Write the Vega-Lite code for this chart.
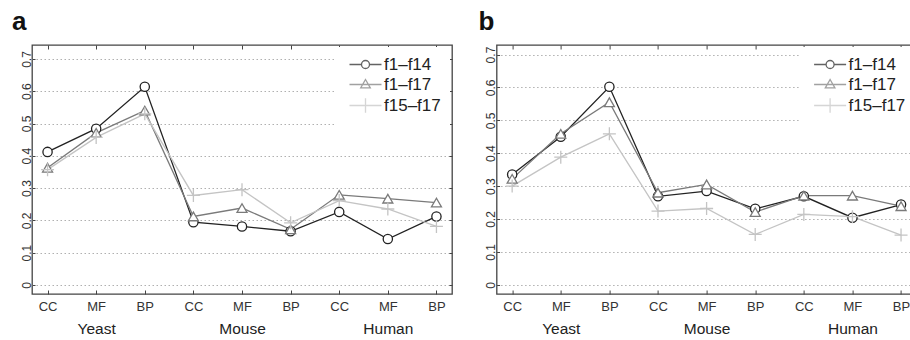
{
  "$schema": "https://vega.github.io/schema/vega-lite/v6.json",
  "padding": {"left": 11, "top": 7, "right": 0, "bottom": 0},
  "spacing": 44.6,
  "bounds": "flush",
  "resolve": {"scale": {"color": "independent", "shape": "independent"}, "legend": {"color": "independent", "shape": "independent"}},
  "config": {
    "font": "Liberation Sans",
    "view": {"stroke": "#444", "strokeWidth": 1.3},
    "axis": {"labelFont": "Liberation Sans", "labelColor": "#333", "tickColor": "#444", "tickWidth": 1, "title": null}
  },
  "datasets": {
    "a": [
      {"series": "f1–f14", "organism": "Yeast", "term": "CC", "pos": 1, "value": 0.412},
      {"series": "f1–f14", "organism": "Yeast", "term": "MF", "pos": 2, "value": 0.484},
      {"series": "f1–f14", "organism": "Yeast", "term": "BP", "pos": 3, "value": 0.614},
      {"series": "f1–f14", "organism": "Mouse", "term": "CC", "pos": 4, "value": 0.194},
      {"series": "f1–f14", "organism": "Mouse", "term": "MF", "pos": 5, "value": 0.181},
      {"series": "f1–f14", "organism": "Mouse", "term": "BP", "pos": 6, "value": 0.166},
      {"series": "f1–f14", "organism": "Human", "term": "CC", "pos": 7, "value": 0.226},
      {"series": "f1–f14", "organism": "Human", "term": "MF", "pos": 8, "value": 0.142},
      {"series": "f1–f14", "organism": "Human", "term": "BP", "pos": 9, "value": 0.212},
      {"series": "f1–f17", "organism": "Yeast", "term": "CC", "pos": 1, "value": 0.363},
      {"series": "f1–f17", "organism": "Yeast", "term": "MF", "pos": 2, "value": 0.471},
      {"series": "f1–f17", "organism": "Yeast", "term": "BP", "pos": 3, "value": 0.540},
      {"series": "f1–f17", "organism": "Mouse", "term": "CC", "pos": 4, "value": 0.212},
      {"series": "f1–f17", "organism": "Mouse", "term": "MF", "pos": 5, "value": 0.238},
      {"series": "f1–f17", "organism": "Mouse", "term": "BP", "pos": 6, "value": 0.172},
      {"series": "f1–f17", "organism": "Human", "term": "CC", "pos": 7, "value": 0.279},
      {"series": "f1–f17", "organism": "Human", "term": "MF", "pos": 8, "value": 0.267},
      {"series": "f1–f17", "organism": "Human", "term": "BP", "pos": 9, "value": 0.255},
      {"series": "f15–f17", "organism": "Yeast", "term": "CC", "pos": 1, "value": 0.357},
      {"series": "f15–f17", "organism": "Yeast", "term": "MF", "pos": 2, "value": 0.457},
      {"series": "f15–f17", "organism": "Yeast", "term": "BP", "pos": 3, "value": 0.530},
      {"series": "f15–f17", "organism": "Mouse", "term": "CC", "pos": 4, "value": 0.277},
      {"series": "f15–f17", "organism": "Mouse", "term": "MF", "pos": 5, "value": 0.295},
      {"series": "f15–f17", "organism": "Mouse", "term": "BP", "pos": 6, "value": 0.192},
      {"series": "f15–f17", "organism": "Human", "term": "CC", "pos": 7, "value": 0.261},
      {"series": "f15–f17", "organism": "Human", "term": "MF", "pos": 8, "value": 0.235},
      {"series": "f15–f17", "organism": "Human", "term": "BP", "pos": 9, "value": 0.181}
    ],
    "b": [
      {"series": "f1–f14", "organism": "Yeast", "term": "CC", "pos": 1, "value": 0.335},
      {"series": "f1–f14", "organism": "Yeast", "term": "MF", "pos": 2, "value": 0.450},
      {"series": "f1–f14", "organism": "Yeast", "term": "BP", "pos": 3, "value": 0.602},
      {"series": "f1–f14", "organism": "Mouse", "term": "CC", "pos": 4, "value": 0.269},
      {"series": "f1–f14", "organism": "Mouse", "term": "MF", "pos": 5, "value": 0.285},
      {"series": "f1–f14", "organism": "Mouse", "term": "BP", "pos": 6, "value": 0.231},
      {"series": "f1–f14", "organism": "Human", "term": "CC", "pos": 7, "value": 0.269},
      {"series": "f1–f14", "organism": "Human", "term": "MF", "pos": 8, "value": 0.204},
      {"series": "f1–f14", "organism": "Human", "term": "BP", "pos": 9, "value": 0.244},
      {"series": "f1–f17", "organism": "Yeast", "term": "CC", "pos": 1, "value": 0.322},
      {"series": "f1–f17", "organism": "Yeast", "term": "MF", "pos": 2, "value": 0.459},
      {"series": "f1–f17", "organism": "Yeast", "term": "BP", "pos": 3, "value": 0.555},
      {"series": "f1–f17", "organism": "Mouse", "term": "CC", "pos": 4, "value": 0.280},
      {"series": "f1–f17", "organism": "Mouse", "term": "MF", "pos": 5, "value": 0.305},
      {"series": "f1–f17", "organism": "Mouse", "term": "BP", "pos": 6, "value": 0.221},
      {"series": "f1–f17", "organism": "Human", "term": "CC", "pos": 7, "value": 0.271},
      {"series": "f1–f17", "organism": "Human", "term": "MF", "pos": 8, "value": 0.271},
      {"series": "f1–f17", "organism": "Human", "term": "BP", "pos": 9, "value": 0.239},
      {"series": "f15–f17", "organism": "Yeast", "term": "CC", "pos": 1, "value": 0.300},
      {"series": "f15–f17", "organism": "Yeast", "term": "MF", "pos": 2, "value": 0.388},
      {"series": "f15–f17", "organism": "Yeast", "term": "BP", "pos": 3, "value": 0.459},
      {"series": "f15–f17", "organism": "Mouse", "term": "CC", "pos": 4, "value": 0.224},
      {"series": "f15–f17", "organism": "Mouse", "term": "MF", "pos": 5, "value": 0.232},
      {"series": "f15–f17", "organism": "Mouse", "term": "BP", "pos": 6, "value": 0.153},
      {"series": "f15–f17", "organism": "Human", "term": "CC", "pos": 7, "value": 0.214},
      {"series": "f15–f17", "organism": "Human", "term": "MF", "pos": 8, "value": 0.207},
      {"series": "f15–f17", "organism": "Human", "term": "BP", "pos": 9, "value": 0.151}
    ]
  },
  "hconcat": [
    {
      "title": {"text": "a", "anchor": "start", "frame": "group", "fontSize": 26, "fontWeight": "bold", "font": "Liberation Sans", "color": "#111", "dx": -20, "baseline": "alphabetic", "offset": -11},
      "width": 420,
      "height": 249,
      "data": {"name": "a"},
      "layer": [
        {
          "mark": {"type": "line", "strokeWidth": 1.3},
          "encoding": {
            "x": {"field": "pos", "type": "quantitative", "scale": {"domain": [0.68, 9.32], "nice": false, "zero": false},
                  "axis": {"orient": "bottom", "values": [1,2,3,4,5,6,7,8,9], "labelExpr": "['CC','MF','BP'][(datum.value-1)%3]", "labelFontSize": 13, "labelPadding": 10, "labelBaseline": "top", "tickSize": -4, "domain": false, "grid": false}},
            "y": {"field": "value", "type": "quantitative", "scale": {"domain": [-0.0285, 0.7434], "nice": false, "zero": false},
                  "axis": {"orient": "left", "values": [0,0.1,0.2,0.3,0.4,0.5,0.6,0.7], "format": ".1~f", "labelFontSize": 12, "labelAngle": 270, "labelAlign": "center", "labelBaseline": "bottom", "labelPadding": 2, "tickSize": -3, "domain": false, "grid": true, "gridColor": "#b0b0b0", "gridDash": [1.5, 2.5], "gridWidth": 1}},
            "detail": {"field": "series"},
            "stroke": {"condition": [{"test": "datum.series === 'f1–f14'", "value": "#222"}, {"test": "datum.series === 'f1–f17'", "value": "#7a7a7a"}], "value": "#c4c4c4"}
          }
        },
        {
          "mark": {"type": "point", "fill": "white", "filled": false, "strokeWidth": 1.3, "opacity": 1},
          "encoding": {
            "x": {"field": "pos", "type": "quantitative", "axis": {"orient": "top", "values": [1,2,3,4,5,6,7,8,9], "labels": false, "tickSize": -4, "domain": false, "grid": false}},
            "y": {"field": "value", "type": "quantitative", "axis": {"orient": "right", "values": [0,0.1,0.2,0.3,0.4,0.5,0.6,0.7], "labels": false, "tickSize": -3, "domain": false, "grid": false}},
            "stroke": {"condition": [{"test": "datum.series === 'f1–f14'", "value": "#222"}, {"test": "datum.series === 'f1–f17'", "value": "#7a7a7a"}], "value": "#c4c4c4"},
            "shape": {"condition": [{"test": "datum.series === 'f1–f14'", "value": "circle"}, {"test": "datum.series === 'f1–f17'", "value": "triangle-up"}], "value": "M-1,0L1,0M0,-1L0,1"},
            "size": {"condition": [{"test": "datum.series === 'f1–f14'", "value": 86}, {"test": "datum.series === 'f1–f17'", "value": 100}], "value": 169}
          }
        },
        {
          "transform": [{"filter": "false"}],
          "mark": {"type": "point", "filled": false, "strokeWidth": 1.3},
          "encoding": {
            "x": {"field": "pos", "type": "quantitative", "axis": {"orient": "bottom", "values": [2,5,8], "labelExpr": "datum.value == 2 ? 'Yeast' : datum.value == 5 ? 'Mouse' : 'Human'", "labelFontSize": 15.5, "labelColor": "#222", "labelPadding": 27, "labelBaseline": "top", "ticks": false, "domain": false, "grid": false}},
            "y": {"field": "value", "type": "quantitative", "axis": null},
            "color": {"field": "series", "type": "nominal", "scale": {"domain": ["f1–f14", "f1–f17", "f15–f17"], "range": ["#222", "#7a7a7a", "#c4c4c4"]},
                      "legend": {"title": null, "orient": "top-right", "offset": 2, "padding": 9, "fillColor": "white", "strokeColor": null, "labelFontSize": 17, "labelFont": "Liberation Sans", "labelColor": "#222", "symbolSize": 64, "symbolStrokeWidth": 1.3, "symbolFillColor": "white", "rowPadding": 2, "symbolOffset": 12, "labelOffset": 10}},
            "shape": {"field": "series", "type": "nominal", "scale": {"domain": ["f1–f14", "f1–f17", "f15–f17"], "range": ["M-4,0L-1,0M1,0L4,0M1,0A1,1,0,1,1,-1,0A1,1,0,1,1,1,0", "M-4,0L4,0M0,-1.25L1.2,0.85L-1.2,0.85Z", "M-4,0L4,0M0,-1.8L0,1.8"]},
                      "legend": {"title": null, "orient": "top-right", "offset": 2, "padding": 9, "fillColor": "white", "strokeColor": null, "labelFontSize": 17, "labelFont": "Liberation Sans", "labelColor": "#222", "symbolSize": 64, "symbolStrokeWidth": 1.3, "symbolFillColor": "white", "rowPadding": 2, "symbolOffset": 12, "labelOffset": 10}}
          }
        }
      ],
      "resolve": {"axis": {"x": "independent", "y": "independent"}}
    },
    {
      "title": {"text": "b", "anchor": "start", "frame": "group", "fontSize": 26, "fontWeight": "bold", "font": "Liberation Sans", "color": "#111", "dx": -18, "baseline": "alphabetic", "offset": -11},
      "width": 420,
      "height": 249,
      "data": {"name": "b"},
      "layer": [
        {
          "mark": {"type": "line", "strokeWidth": 1.3},
          "encoding": {
            "x": {"field": "pos", "type": "quantitative", "scale": {"domain": [0.68, 9.32], "nice": false, "zero": false},
                  "axis": {"orient": "bottom", "values": [1,2,3,4,5,6,7,8,9], "labelExpr": "['CC','MF','BP'][(datum.value-1)%3]", "labelFontSize": 13, "labelPadding": 10, "labelBaseline": "top", "tickSize": -4, "domain": false, "grid": false}},
            "y": {"field": "value", "type": "quantitative", "scale": {"domain": [-0.028, 0.729], "nice": false, "zero": false},
                  "axis": {"orient": "left", "values": [0,0.1,0.2,0.3,0.4,0.5,0.6,0.7], "format": ".1~f", "labelFontSize": 12, "labelAngle": 270, "labelAlign": "center", "labelBaseline": "bottom", "labelPadding": 2, "tickSize": -3, "domain": false, "grid": true, "gridColor": "#b0b0b0", "gridDash": [1.5, 2.5], "gridWidth": 1}},
            "detail": {"field": "series"},
            "stroke": {"condition": [{"test": "datum.series === 'f1–f14'", "value": "#222"}, {"test": "datum.series === 'f1–f17'", "value": "#7a7a7a"}], "value": "#c4c4c4"}
          }
        },
        {
          "mark": {"type": "point", "fill": "white", "filled": false, "strokeWidth": 1.3, "opacity": 1},
          "encoding": {
            "x": {"field": "pos", "type": "quantitative", "axis": {"orient": "top", "values": [1,2,3,4,5,6,7,8,9], "labels": false, "tickSize": -4, "domain": false, "grid": false}},
            "y": {"field": "value", "type": "quantitative", "axis": {"orient": "right", "values": [0,0.1,0.2,0.3,0.4,0.5,0.6,0.7], "labels": false, "tickSize": -3, "domain": false, "grid": false}},
            "stroke": {"condition": [{"test": "datum.series === 'f1–f14'", "value": "#222"}, {"test": "datum.series === 'f1–f17'", "value": "#7a7a7a"}], "value": "#c4c4c4"},
            "shape": {"condition": [{"test": "datum.series === 'f1–f14'", "value": "circle"}, {"test": "datum.series === 'f1–f17'", "value": "triangle-up"}], "value": "M-1,0L1,0M0,-1L0,1"},
            "size": {"condition": [{"test": "datum.series === 'f1–f14'", "value": 86}, {"test": "datum.series === 'f1–f17'", "value": 100}], "value": 169}
          }
        },
        {
          "transform": [{"filter": "false"}],
          "mark": {"type": "point", "filled": false, "strokeWidth": 1.3},
          "encoding": {
            "x": {"field": "pos", "type": "quantitative", "axis": {"orient": "bottom", "values": [2,5,8], "labelExpr": "datum.value == 2 ? 'Yeast' : datum.value == 5 ? 'Mouse' : 'Human'", "labelFontSize": 15.5, "labelColor": "#222", "labelPadding": 27, "labelBaseline": "top", "ticks": false, "domain": false, "grid": false}},
            "y": {"field": "value", "type": "quantitative", "axis": null},
            "color": {"field": "series", "type": "nominal", "scale": {"domain": ["f1–f14", "f1–f17", "f15–f17"], "range": ["#222", "#7a7a7a", "#c4c4c4"]},
                      "legend": {"title": null, "orient": "top-right", "offset": 2, "padding": 9, "fillColor": "white", "strokeColor": null, "labelFontSize": 17, "labelFont": "Liberation Sans", "labelColor": "#222", "symbolSize": 64, "symbolStrokeWidth": 1.3, "symbolFillColor": "white", "rowPadding": 2, "symbolOffset": 12, "labelOffset": 10}},
            "shape": {"field": "series", "type": "nominal", "scale": {"domain": ["f1–f14", "f1–f17", "f15–f17"], "range": ["M-4,0L-1,0M1,0L4,0M1,0A1,1,0,1,1,-1,0A1,1,0,1,1,1,0", "M-4,0L4,0M0,-1.25L1.2,0.85L-1.2,0.85Z", "M-4,0L4,0M0,-1.8L0,1.8"]},
                      "legend": {"title": null, "orient": "top-right", "offset": 2, "padding": 9, "fillColor": "white", "strokeColor": null, "labelFontSize": 17, "labelFont": "Liberation Sans", "labelColor": "#222", "symbolSize": 64, "symbolStrokeWidth": 1.3, "symbolFillColor": "white", "rowPadding": 2, "symbolOffset": 12, "labelOffset": 10}}
          }
        }
      ],
      "resolve": {"axis": {"x": "independent", "y": "independent"}}
    }
  ]
}
